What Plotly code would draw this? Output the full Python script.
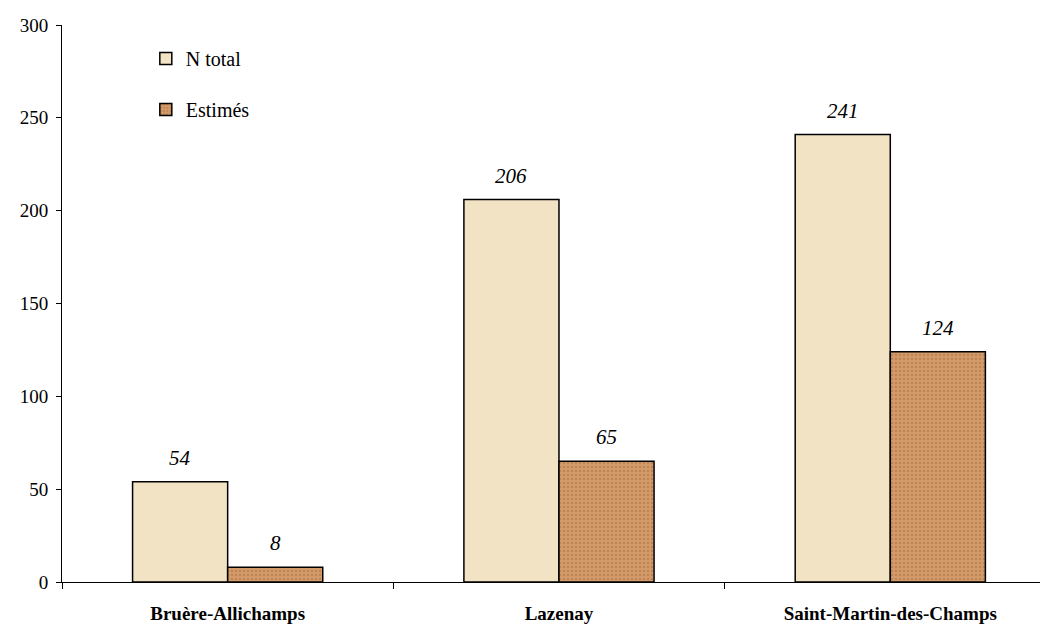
import plotly.graph_objects as go

# Data
sites = ["Bruère-Allichamps", "Lazenay", "Saint-Martin-des-Champs"]
n_total = [54, 206, 241]
estimes = [8, 65, 124]

FONT = "Liberation Serif, Times New Roman, serif"
BARGAP = 0.426

fig = go.Figure()

fig.add_trace(go.Bar(
    x=sites, y=n_total, name="N total",
    legendgroup="a",
    marker=dict(
        color="#F2E3C4",
        line=dict(color="black", width=1.5),
    ),
))
fig.add_trace(go.Bar(
    x=sites, y=estimes, name="Estimés",
    legendgroup="b",
    marker=dict(
        color="#CF9462",
        line=dict(color="black", width=1.5),
        pattern=dict(shape=".", fgcolor="#A86C3E", bgcolor="#D39B6A", size=4, solidity=0.3),
    ),
))

# value labels in italics above each bar
# (page body has an 8px margin, so the figure is shifted to compensate)
plot_w = 1040 - 54
cat_px = plot_w / 2.976
bar_px = cat_px * (1 - BARGAP) / 2
annotations = []
for vals, sign in [(n_total, -1), (estimes, 1)]:
    for s, v in zip(sites, vals):
        annotations.append(dict(
            x=s, y=v, xref="x", yref="y",
            text=str(v), showarrow=False,
            xshift=sign * bar_px / 2, yshift=10,
            yanchor="bottom",
            font=dict(family=FONT, size=21, style="italic", color="black"),
        ))

fig.update_layout(
    width=1040, height=624,
    margin=dict(l=54, r=0, t=17, b=50, autoexpand=False),
    paper_bgcolor="white", plot_bgcolor="white",
    barmode="group", bargap=BARGAP, bargroupgap=0,
    font=dict(family=FONT, size=18, color="black"),
    showlegend=True,
    legend=dict(
        x=0.085, y=0.975, xanchor="left", yanchor="top",
        bgcolor="rgba(0,0,0,0)",
        font=dict(family=FONT, size=20, color="black"),
        tracegroupgap=22,
        traceorder="grouped",
        itemwidth=30,
    ),
    annotations=annotations,
)

fig.update_xaxes(
    type="category",
    range=[-0.5, 2.476],
    automargin=False,
    showline=True, linecolor="black", linewidth=1,
    ticks="outside", tickson="boundaries", ticklen=6, tickcolor="black",
    tickfont=dict(family=FONT, size=19, weight="bold"),
    ticklabelstandoff=14,
    showgrid=False,
)
fig.update_yaxes(
    range=[0, 300], dtick=50,
    automargin=False,
    showline=True, linecolor="black", linewidth=1,
    ticks="outside", ticklen=5, tickcolor="black",
    tickfont=dict(family=FONT, size=19),
    ticklabelstandoff=4,
    showgrid=False, zeroline=False,
)

fig.write_html("out.html")
